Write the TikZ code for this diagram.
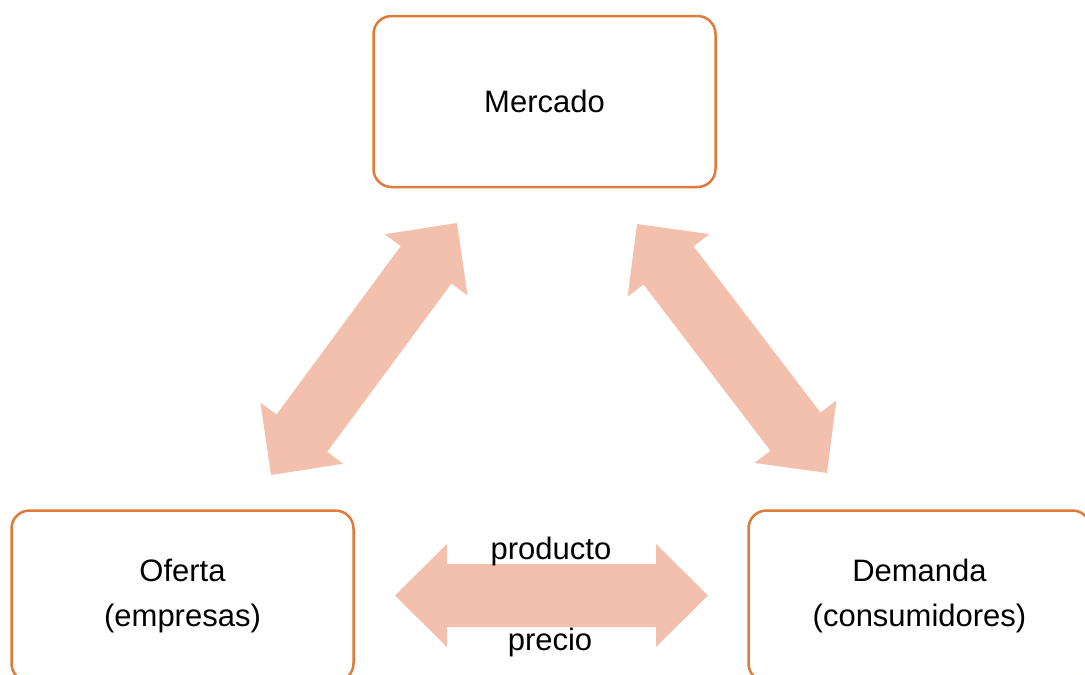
\documentclass[tikz,border=0pt]{standalone}
\usepackage{fontspec}
\setmainfont{Liberation Sans}
\usetikzlibrary{positioning,calc}

\definecolor{naranja}{HTML}{DF7A38}
\definecolor{salmon}{HTML}{F4C0AE}

\begin{document}
\begin{tikzpicture}[
x=1pt, y=-1pt,
caja/.style={
rectangle,
rounded corners=18pt,
draw=naranja,
line width=2.5pt,
align=center,
minimum width=342pt,
minimum height=171pt,
font=\fontsize{31}{45}\selectfont
},
% flecha gruesa de doble punta, hecha como un solo poligono
flecha/.style={
fill=salmon,
to path={
let \p1=(\tikztostart), \p2=(\tikztotarget),
\n1={atan2(\y2-\y1,\x2-\x1)},
\n2={veclen(\x2-\x1,\y2-\y1)},
\n3={veclen(\x2-\x1,\y2-\y1)-52}
in [shift={(\p1)}, rotate=\n1]
(0pt,0pt) -- (52pt,51.5pt) -- (52pt,31.5pt) -- (\n3,31.5pt)
-- (\n3,51.5pt) -- (\n2,0pt) -- (\n3,-51.5pt) -- (\n3,-31.5pt)
-- (52pt,-31.5pt) -- (52pt,-51.5pt) -- cycle
}
},
etiqueta/.style={
anchor=base,
inner sep=0pt,
font=\fontsize{31}{37}\selectfont
}
]

\clip (0,0) rectangle (1085,675);

\node[caja] (mercado) at (544.5,101.5) {Mercado};
\node[caja, below=321pt of mercado, xshift=-362pt] (oferta) {Oferta\\(empresas)};
\node[caja, below=321pt of mercado, xshift=375pt] (demanda) {Demanda\\(consumidores)};

% extremos de las flechas
\coordinate (of-m) at (271,475);
\coordinate (m-of) at (457,223);
\coordinate (m-de) at (637,224);
\coordinate (de-m) at (827,473);
\coordinate (of-de) at (395,595.5);
\coordinate (de-of) at (708,595.5);

\path[flecha] (of-m) to (m-of);
\path[flecha] (m-de) to (de-m);
\path[flecha] (of-de) to (de-of);

\node[etiqueta] (producto) at (551,559) {producto};
\node[etiqueta] (precio) at (550,650) {precio};

\end{tikzpicture}
\end{document}
